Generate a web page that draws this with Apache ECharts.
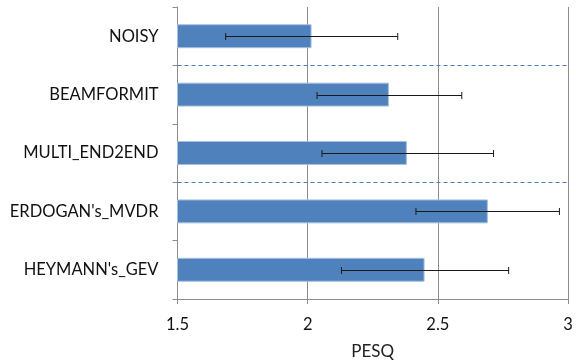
<!DOCTYPE html>
<html><head><meta charset="utf-8">
<script src="https://cdn.jsdelivr.net/npm/echarts@6/dist/echarts.min.js"></script>
<style>html,body{margin:0;padding:0;background:#fff}#c{width:576px;height:360px}</style>
</head><body><div id="c"></div>
<script>
const categories = ['NOISY','BEAMFORMIT','MULTI_END2END',"ERDOGAN's_MVDR","HEYMANN's_GEV"];
const pesqMean = [2.015, 2.312, 2.381, 2.692, 2.449];
const errLow = [1.685, 2.036, 2.055, 2.416, 2.130];
const errHigh = [2.346, 2.592, 2.714, 2.967, 2.772];
const separatorsAfter = ['NOISY','MULTI_END2END'];
const xTicks = {min:1.5, max:3, interval:0.5};
const xTitle = 'PESQ';

const FONT = 'Lato';
const chart = echarts.init(document.getElementById('c'));
chart.setOption({
  animation:false,
  grid:{left:177.5, right:8, top:7, bottom:61, containLabel:false, outerBoundsMode:'none'},
  xAxis:{type:'value', min:xTicks.min, max:xTicks.max, interval:xTicks.interval,
    name:xTitle, nameLocation:'middle', nameGap:44,
    nameTextStyle:{fontFamily:FONT, fontSize:17, color:'#222'},
    axisLine:{show:true, lineStyle:{color:'#8c8c8c', width:1}},
    axisTick:{show:true, length:5, lineStyle:{color:'#8c8c8c'}},
    axisLabel:{fontFamily:FONT, fontSize:16.5, color:'#111', margin:17},
    splitLine:{show:true, lineStyle:{color:'#8c8c8c', width:1}}},
  yAxis:{type:'category', data:categories, inverse:true,
    axisLine:{show:true, lineStyle:{color:'#8c8c8c', width:1}},
    axisTick:{show:true, length:5, lineStyle:{color:'#8c8c8c'}},
    axisLabel:{fontFamily:FONT, fontSize:16.5, color:'#111', margin:19}},
  series:[
    {type:'bar', data:pesqMean, barWidth:'41%',
      itemStyle:{color:'#4f81bd', borderColor:'#a7c0de', borderWidth:1}, z:2},
    {type:'custom', z:5,
      data: categories.map((c,i)=>[errLow[i], errHigh[i], i]),
      renderItem:function(params, api){
        const lo = api.coord([api.value(0), api.value(2)]);
        const hi = api.coord([api.value(1), api.value(2)]);
        const y = Math.round(lo[1]) + 0.5, h = 3.5;
        const st = {stroke:'#1a1a1a', lineWidth:1};
        return {type:'group', children:[
          {type:'line', shape:{x1:lo[0], y1:y, x2:hi[0], y2:y}, style:st},
          {type:'line', shape:{x1:lo[0], y1:y-h, x2:lo[0], y2:y+h}, style:st},
          {type:'line', shape:{x1:hi[0], y1:y-h, x2:hi[0], y2:y+h}, style:st}
        ]};
      }},
    {type:'custom', z:4,
      data: separatorsAfter.map(c=>[xTicks.min, categories.indexOf(c)]),
      renderItem:function(params, api){
        const p = api.coord([api.value(0), api.value(1)]);
        const band = api.size([0,1])[1];
        const y = Math.round(p[1] + band/2) + 0.5;
        const cs = params.coordSys;
        return {type:'line', shape:{x1:cs.x, y1:y, x2:cs.x+cs.width, y2:y},
          style:{stroke:'#4a7ebb', lineWidth:1.2, lineDash:[4,3], fill:null}};
      }}
  ]
});
</script></body></html>
